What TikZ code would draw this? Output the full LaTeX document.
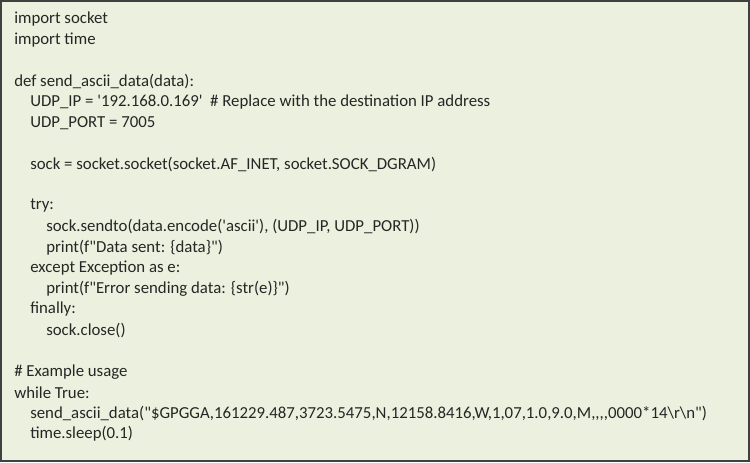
\documentclass[tikz,border=0pt]{standalone}
\usepackage{fontspec}
\setmainfont{Carlito}[Ligatures=TeXOff]
\definecolor{bg}{RGB}{235,241,222}
\newcommand\sq{\char"27\relax}
\newcommand\dq{\char"22\relax}
\begin{document}
\begin{tikzpicture}[x=0.75pt,y=-0.75pt,
  code/.style={anchor=west,inner sep=0pt,font=\fontsize{12.6}{14}\selectfont,text=black!85}]
\useasboundingbox (0,0) rectangle (750,462);
\fill[bg,draw=black!75,line width=0.9pt] (1,1) rectangle (749,461);
\def\L#1#2#3{\node[code] (l#1) at (#2,{19+20.75*(#1-1)}) {#3};}
\L{1}{14}{import socket}
\L{2}{14}{import time}
\L{4}{14}{def send\_ascii\_data(data):}
\L{5}{30}{UDP\_IP = \sq192.168.0.169\sq\ \ \#\ Replace with the destination IP address}
\L{6}{30}{UDP\_PORT = 7005}
\L{8}{30}{sock = socket.socket(socket.AF\_INET, socket.SOCK\_DGRAM)}
\L{10}{30}{try:}
\L{11}{46}{sock.sendto(data.encode(\sq ascii\sq), (UDP\_IP, UDP\_PORT))}
\L{12}{46}{print(f\dq Data sent: \{data\}\dq)}
\L{13}{30}{except Exception as e:}
\L{14}{46}{print(f\dq Error sending data: \{str(e)\}\dq)}
\L{15}{30}{finally:}
\L{16}{46}{sock.close()}
\L{18}{14}{\#\ Example usage}
\L{19}{14}{while True:}
\L{20}{30}{send\_ascii\_data(\dq\$GPGGA,161229.487,3723.5475,N,12158.8416,W,1,07,1.0,9.0,M,,,,0000*14\textbackslash r\textbackslash n\dq)}
\L{21}{30}{time.sleep(0.1)}
\end{tikzpicture}
\end{document}
